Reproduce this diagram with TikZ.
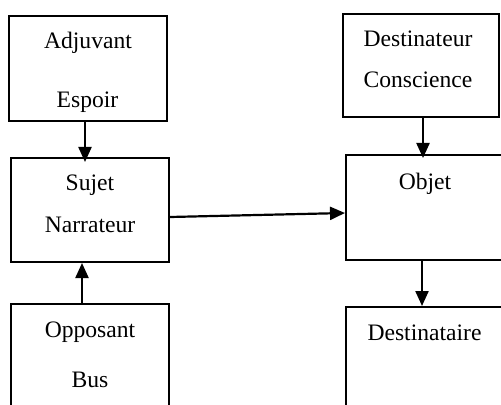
\documentclass[tikz,border=0pt]{standalone}
\usepackage{fontspec}
\setmainfont{Liberation Serif}
\usetikzlibrary{arrows.meta,positioning}
\tikzset{>={Triangle[length=7.5pt,width=6.5pt]}}
\tikzstyle{actant}=[rectangle,draw=black,line width=1pt,minimum width=79pt,minimum height=52pt,inner sep=0pt]
\tikzstyle{role}=[inner sep=0pt,anchor=base,font=\fontsize{11.8}{14}\selectfont]
\tikzstyle{link}=[->,line width=1.1pt]

\begin{document}
\begin{tikzpicture}[x=0.5pt,y=-0.5pt]
\useasboundingbox (0,0) rectangle (501,405);
\clip (0,0) rectangle (501,405);

% left column
\node[actant,minimum height=52.5pt] (adj) at (88,68.5) {};
\node[actant] (suj) at (90,210) {};
\node[actant] (opp) at (90,356) {};

% right column
\node[actant,minimum width=78pt,minimum height=51.5pt] (dest) at (421,65.5) {};
\node[actant,minimum height=52.5pt] (obj) at (425,207.5) {};
\node[actant] (dtaire) at (425,359) {};

% texts
\node[role] (adjA) at (88,49) {Adjuvant};
\node[role] (adjB) at (87.5,108) {Espoir};
\node[role] (sujA) at (90,191) {Sujet};
\node[role] (sujB) at (90,232) {Narrateur};
\node[role] (oppA) at (90,337) {Opposant};
\node[role] (oppB) at (90,387) {Bus};
\node[role] (destA) at (418,47) {Destinateur};
\node[role] (destB) at (418,88) {Conscience};
\node[role] (objA) at (425,190) {Objet};
\node[role] (dtaireA) at (424.5,340) {Destinataire};

% arrows
\draw[link,shorten >=-2.5pt] ([xshift=-1.5pt]adj.south) -- ([xshift=-2.5pt]suj.north);
\draw[link] ([xshift=-4pt]opp.north) -- ([xshift=-4pt]suj.south);
\draw[link] ([yshift=-3.5pt]suj.east) -- ([yshift=-2.75pt]obj.west);
\draw[link,shorten >=-2pt] ([xshift=1pt]dest.south) -- ([xshift=-1pt]obj.north);
\draw[link] ([xshift=-1.5pt]obj.south) -- ([xshift=-1.5pt]dtaire.north);

\end{tikzpicture}
\end{document}
